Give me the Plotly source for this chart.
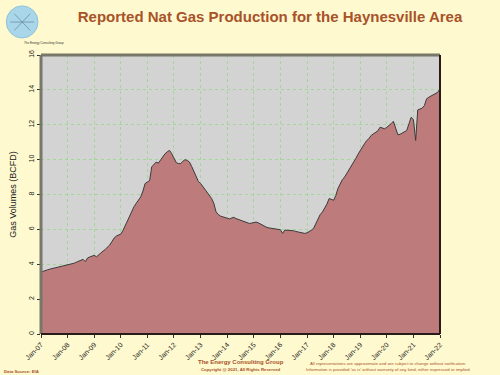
import plotly.graph_objects as go
import pandas as pd

# Monthly production (BCFD), Jan-2007 .. Jan-2022
start_month = "2007-01-01"
production = [
    # 2007
    3.55, 3.58, 3.62, 3.68, 3.72, 3.75, 3.80, 3.84, 3.88, 3.90, 3.93, 3.96,
    # 2008
    3.97, 4.00, 4.03, 4.06, 4.12, 4.19, 4.24, 4.28, 4.15, 4.36, 4.42, 4.48,
    # 2009
    4.51, 4.43, 4.55, 4.66, 4.75, 4.85, 4.97, 5.10, 5.30, 5.50, 5.62, 5.68,
    # 2010
    5.73, 5.95, 6.20, 6.49, 6.80, 7.10, 7.30, 7.50, 7.67, 7.86, 8.20, 8.63,
    # 2011
    8.72, 8.80, 9.58, 9.70, 9.86, 9.80, 10.00, 10.20, 10.34, 10.45, 10.53, 10.34,
    # 2012
    10.05, 9.83, 9.78, 9.77, 9.90, 10.00, 9.95, 9.86, 9.60, 9.29, 9.00, 8.75,
    # 2013
    8.63, 8.45, 8.25, 8.06, 7.90, 7.77, 7.50, 7.00, 6.85, 6.76, 6.72, 6.68,
    # 2014
    6.63, 6.60, 6.65, 6.69, 6.62, 6.57, 6.50, 6.45, 6.43, 6.38, 6.34, 6.36,
    # 2015
    6.40, 6.42, 6.38, 6.30, 6.25, 6.18, 6.11, 6.08, 6.05, 6.02, 6.00, 6.00,
    # 2016
    5.98, 5.77, 5.96, 5.96, 5.95, 5.96, 5.92, 5.88, 5.85, 5.82, 5.80, 5.77,
    # 2017
    5.80, 5.86, 5.95, 6.06, 6.30, 6.63, 6.85, 7.00, 7.20, 7.45, 7.77, 7.70,
    # 2018
    7.67, 7.95, 8.34, 8.60, 8.85, 9.00, 9.20, 9.40, 9.58, 9.80, 10.06, 10.30,
    # 2019
    10.53, 10.70, 10.91, 11.10, 11.20, 11.39, 11.48, 11.58, 11.65, 11.86, 11.82, 11.77,
    # 2020
    11.85, 11.95, 12.06, 12.20, 11.86, 11.43, 11.45, 11.52, 11.60, 11.67, 12.06, 12.43,
    # 2021
    12.30, 11.10, 12.85, 12.90, 12.95, 13.10, 13.49, 13.58, 13.65, 13.71, 13.80, 13.86,
    # 2022
    14.06,
]
tick_years = list(range(2007, 2023))
tick_labels = ["Jan-%02d" % (y % 100) for y in tick_years]
y_ticks = [0, 2, 4, 6, 8, 10, 12, 14, 16]

dates = pd.date_range(start_month, periods=len(production), freq="MS")
tick_dates = [pd.Timestamp(year=y, month=1, day=1) for y in tick_years]

BG = "#FEF9CE"
BROWN = "#A8522A"
GRID = "rgba(160,215,150,0.95)"

fig = go.Figure()
fig.add_trace(go.Scatter(
    x=dates, y=production, mode="lines",
    line=dict(color="#3a3a3a", width=1),
    fill="tozeroy", fillcolor="rgba(188,116,116,0.93)",
    hoverinfo="x+y", showlegend=False,
))

fig.update_layout(
    width=500, height=375,
    margin=dict(l=39, r=60, t=55, b=41),
    paper_bgcolor=BG, plot_bgcolor="#D3D3D3",
    font=dict(family="Liberation Sans, Arial, sans-serif", color="#222"),
    title=dict(
        text="<b>Reported Nat Gas Production for the Haynesville Area</b>",
        x=0.54, xanchor="center", y=0.955, yanchor="middle",
        font=dict(size=15, color=BROWN),
    ),
    xaxis=dict(
        type="date", range=[tick_dates[0], tick_dates[-1]],
        tickvals=tick_dates, ticktext=tick_labels, tickangle=-45,
        tickfont=dict(size=7, color="#222"),
        ticks="outside", ticklen=3, tickcolor="#333",
        showgrid=True, gridcolor=GRID, griddash="dot", gridwidth=1,
        showline=False, zeroline=False,
    ),
    yaxis=dict(
        range=[0, 16], tickvals=y_ticks, tickangle=-90,
        tickfont=dict(size=7, color="#222"),
        ticks="outside", ticklen=3, tickcolor="#333",
        showgrid=True, gridcolor=GRID, griddash="dot", gridwidth=1,
        showline=False, zeroline=False,
        title=dict(text="Gas Volumes (BCFD)", font=dict(size=9, color="#222"), standoff=10),
    ),
)

# frame: gray on top/left, dark on bottom/right
fig.add_shape(type="line", xref="paper", yref="paper", x0=0, x1=0, y0=0, y1=1,
              line=dict(color="#77776a", width=3))
fig.add_shape(type="line", xref="paper", yref="paper", x0=0, x1=1, y0=1, y1=1,
              line=dict(color="#77776a", width=3))
fig.add_shape(type="line", xref="paper", yref="paper", x0=0, x1=1, y0=0, y1=0,
              line=dict(color="#2a1a1a", width=2))
fig.add_shape(type="line", xref="paper", yref="paper", x0=1, x1=1, y0=0, y1=1,
              line=dict(color="#2a1a1a", width=2))

# logo approximation
fig.add_shape(type="circle", xref="paper", yref="paper",
              x0=-0.087, x1=-0.0075, y0=1.061, y1=1.176,
              fillcolor="#A9D6E8", line=dict(color="#8fc3da", width=1), layer="above")
for dx, dy in [(0.02, 0.03), (-0.02, 0.03), (0.02, -0.03), (-0.02, -0.03), (0.03, 0.0), (-0.03, 0.0)]:
    fig.add_shape(type="line", xref="paper", yref="paper",
                  x0=-0.047, y0=1.118, x1=-0.047 + dx, y1=1.118 + dy,
                  line=dict(color="#5a7a8a", width=0.6), layer="above")
fig.add_annotation(text="The Energy Consulting Group", xref="paper", yref="paper",
                   x=-0.047, y=1.043, showarrow=False, yanchor="middle",
                   font=dict(size=3, color="#333"))

# footer texts
fig.add_annotation(text="<b>The Energy Consulting Group</b>", xref="paper", yref="paper",
                   x=0.501, y=-0.100, showarrow=False, xanchor="center", yanchor="middle",
                   font=dict(size=6, color=BROWN))
fig.add_annotation(text="<b>Copyright @ 2021, All Rights Reserved</b>", xref="paper", yref="paper",
                   x=0.501, y=-0.129, showarrow=False, xanchor="center", yanchor="middle",
                   font=dict(size=4.3, color=BROWN))
fig.add_annotation(text="<b>Data Source: EIA</b>", xref="paper", yref="paper",
                   x=-0.097, y=-0.133, showarrow=False, xanchor="left", yanchor="middle",
                   font=dict(size=4.3, color=BROWN))
fig.add_annotation(text="All representations are approximate and are subject to change without notification.",
                   xref="paper", yref="paper", x=0.869, y=-0.104, showarrow=False,
                   xanchor="center", yanchor="middle", font=dict(size=4.3, color=BROWN))
fig.add_annotation(text="Information is provided 'as is' without warranty of any kind, either expressed or implied",
                   xref="paper", yref="paper", x=0.869, y=-0.129, showarrow=False,
                   xanchor="center", yanchor="middle", font=dict(size=4.3, color=BROWN))

fig.write_html("out.html", config={"displayModeBar": False},
               post_script="document.body.style.margin='0';")
